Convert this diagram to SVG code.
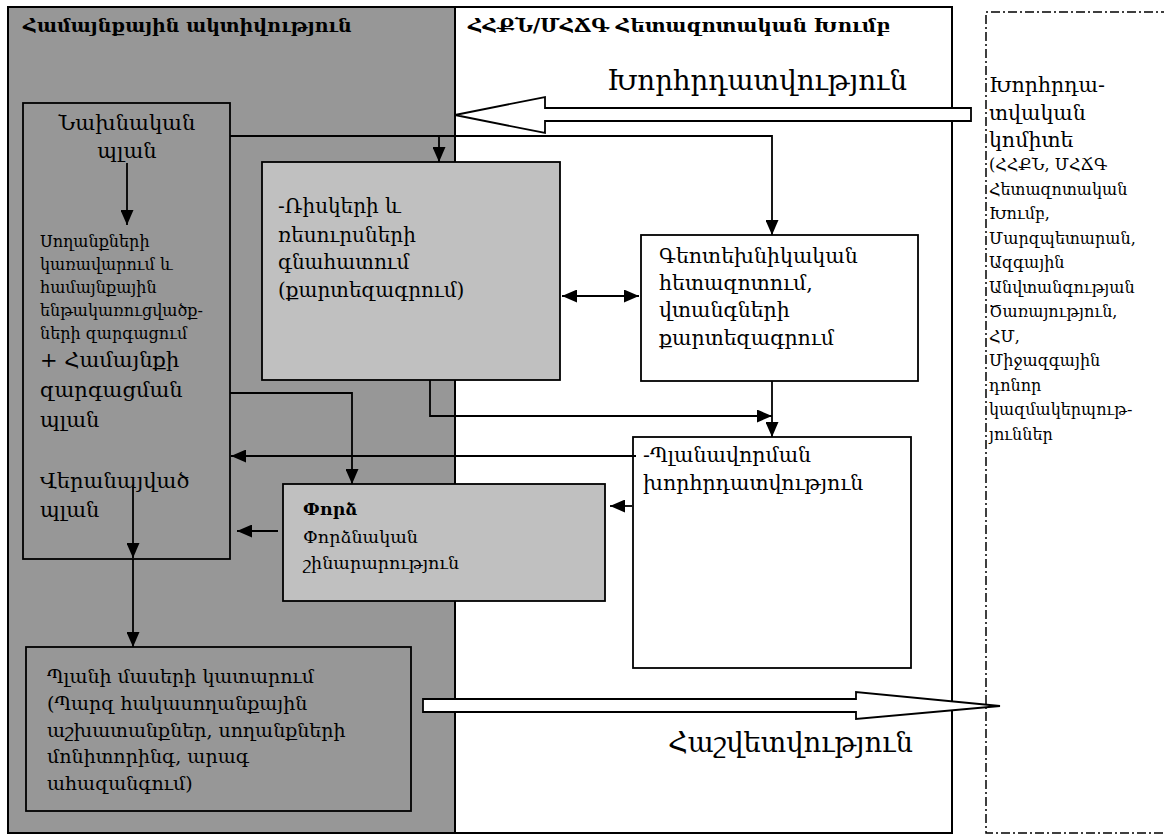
<svg xmlns="http://www.w3.org/2000/svg" width="1164" height="835" viewBox="0 0 1164 835">
<defs>
<style>
.t{font-family:"DejaVu Serif",serif;fill:#000}
.b{font-weight:bold}
.panel{stroke:#000;stroke-width:2}
.box{stroke:#000;stroke-width:1.8}
.ln{fill:none;stroke:#000;stroke-width:1.8}
.big{fill:#fff;stroke:#000;stroke-width:1.8}
</style>
<marker id="ah2" viewBox="0 0 10 10" refX="10" refY="5" markerWidth="15" markerHeight="13" markerUnits="userSpaceOnUse" orient="auto-start-reverse" preserveAspectRatio="none">
<path d="M0,0 L10,5 L0,10 z" fill="#000"/>
</marker>
</defs>
<rect width="1164" height="835" fill="#fff"/>
<g id="panel-community">
<rect class="panel" x="8" y="7" width="447" height="826" fill="#979797"/>
<text class="t b" x="23" y="32" font-size="19">Համայնքային ակտիվություն</text>
</g>
<g id="panel-research">
<rect class="panel" x="455" y="7" width="497" height="826" fill="#fff"/>
<text class="t b" x="468" y="32" font-size="19" textLength="422" lengthAdjust="spacingAndGlyphs">ՀՀՔՆ/ՄՀՃԳ Հետազոտական Խումբ</text>
</g>
<g id="panel-committee">
<path d="M1170,12 H986 V833 H1170" fill="none" stroke="#000" stroke-width="1.5" stroke-dasharray="9,3,2,3"/>
<g class="t" font-size="20.5">
<text x="989" y="92">Խորհրդա-</text>
<text x="989" y="120">տվական</text>
<text x="989" y="147">կոմիտե</text>
</g>
<g class="t" font-size="16">
<text x="989" y="170">(ՀՀՔՆ, ՄՀՃԳ</text>
<text x="989" y="194.5">Հետազոտական</text>
<text x="989" y="219">Խումբ,</text>
<text x="989" y="243.5">Մարզպետարան,</text>
<text x="989" y="268">Ազգային</text>
<text x="989" y="292.5">Անվտանգության</text>
<text x="989" y="317">Ծառայություն,</text>
<text x="989" y="341.5">ՀՄ,</text>
<text x="989" y="366">Միջազգային</text>
<text x="989" y="390.5">դոնոր</text>
<text x="989" y="415">կազմակերպութ-</text>
<text x="989" y="439.5">յուններ</text>
</g>
</g>
<g id="node-plan">
<rect class="box" x="23" y="103" width="207" height="456" fill="#979797"/>
<g class="t" font-size="21" text-anchor="middle">
<text x="127" y="130">Նախնական</text>
<text x="127" y="158">պլան</text>
</g>
<g class="t" font-size="16">
<text x="40" y="247">Սողանքների</text>
<text x="40" y="270">կառավարում և</text>
<text x="40" y="293">համայնքային</text>
<text x="40" y="316">ենթակառուցվածք-</text>
<text x="40" y="339">ների զարգացում</text>
</g>
<g class="t" font-size="21">
<text x="40" y="367">+ Համայնքի</text>
<text x="40" y="397">զարգացման</text>
<text x="40" y="427">պլան</text>
<text x="40" y="488">Վերանայված</text>
<text x="40" y="517">պլան</text>
</g>
</g>
<g id="node-risk">
<rect class="box" x="262" y="162" width="298" height="218" fill="#c0c0c0"/>
<g class="t" font-size="20">
<text x="278" y="213">-Ռիսկերի և</text>
<text x="278" y="242">ռեսուրսների</text>
<text x="278" y="269">գնահատում</text>
<text x="278" y="297">(քարտեզագրում)</text>
</g>
</g>
<g id="node-geotech">
<rect class="box" x="641" y="235" width="277" height="146" fill="#fff"/>
<g class="t" font-size="20.5">
<text x="659" y="263">Գեոտեխնիկական</text>
<text x="659" y="290">հետազոտում,</text>
<text x="659" y="317">վտանգների</text>
<text x="659" y="345">քարտեզագրում</text>
</g>
</g>
<g id="node-planning">
<rect class="box" x="633" y="437" width="278" height="231" fill="#fff"/>
<g class="t" font-size="20.5">
<text x="643" y="462">-Պլանավորման</text>
<text x="643" y="490">խորհրդատվություն</text>
</g>
</g>
<g id="node-pilot">
<rect class="box" x="283" y="484" width="322" height="117" fill="#c0c0c0"/>
<g class="t" font-size="17.5">
<text class="b" x="303" y="515">Փորձ</text>
<text x="303" y="543">Փորձնական</text>
<text x="303" y="569">շինարարություն</text>
</g>
</g>
<g id="node-implementation">
<rect class="box" x="26" y="647" width="385" height="164" fill="#979797"/>
<g class="t" font-size="19">
<text x="47" y="683">Պլանի մասերի կատարում</text>
<text x="47" y="710">(Պարզ հակասողանքային</text>
<text x="47" y="737">աշխատանքներ, սողանքների</text>
<text x="47" y="763">մոնիտորինգ, արագ</text>
<text x="47" y="790">ահազանգում)</text>
</g>
</g>
<g id="connectors">
<polyline class="ln" points="230,136 772,136 772,235" marker-end="url(#ah2)"/>
<polyline class="ln" points="439,136 439,162" marker-end="url(#ah2)"/>
<polyline class="ln" points="127,163 127,225" marker-end="url(#ah2)"/>
<polyline class="ln" points="562,296 639,296" marker-start="url(#ah2)" marker-end="url(#ah2)"/>
<polyline class="ln" points="430,380 430,416 772,416" marker-end="url(#ah2)"/>
<polyline class="ln" points="772,381 772,437" marker-end="url(#ah2)"/>
<polyline class="ln" points="230,393 352,393 352,484" marker-end="url(#ah2)"/>
<polyline class="ln" points="636,456 231,456" marker-end="url(#ah2)"/>
<polyline class="ln" points="632,506 610,506" marker-end="url(#ah2)"/>
<polyline class="ln" points="278,531 237,531" marker-end="url(#ah2)"/>
<polyline class="ln" points="133,487 133,558" marker-end="url(#ah2)"/>
<polyline class="ln" points="133,559 133,647" marker-end="url(#ah2)"/>
</g>
<g id="flow-consulting">
<polygon class="big" points="971,108 971,121 545,121 545,133 455,115 545,97 545,108"/>
<text class="t" x="607" y="90" font-size="27" textLength="300" lengthAdjust="spacingAndGlyphs">Խորհրդատվություն</text>
</g>
<g id="flow-reporting">
<polygon class="big" points="423,699 856,699 856,692 1000,706 856,719 856,712 423,712"/>
<text class="t" x="668" y="752" font-size="27" textLength="245" lengthAdjust="spacingAndGlyphs">Հաշվետվություն</text>
</g>
</svg>
